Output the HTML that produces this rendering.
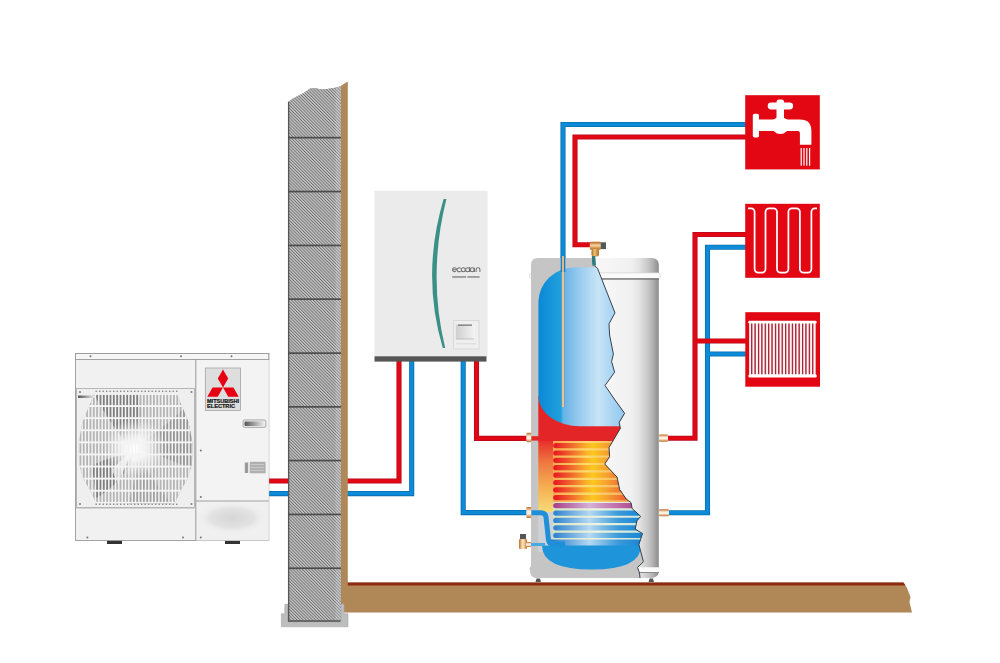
<!DOCTYPE html>
<html><head><meta charset="utf-8"><title>Ecodan system</title>
<style>
html,body{margin:0;padding:0;background:#fff;}
body{width:1000px;height:663px;overflow:hidden;font-family:"Liberation Sans",sans-serif;}
svg{display:block;}
</style></head><body>
<svg width="1000" height="663" viewBox="0 0 1000 663">
<defs>
<pattern id="hatch" patternUnits="userSpaceOnUse" width="2.2" height="2.2" patternTransform="rotate(-45)">
<rect width="2.2" height="2.2" fill="#cacaca"/><rect width="0.9" height="2.2" fill="#6a6a6a"/>
</pattern>
<linearGradient id="tankExt" x1="531" y1="0" x2="659" y2="0" gradientUnits="userSpaceOnUse">
<stop offset="0" stop-color="#f7f7f7"/><stop offset="0.6" stop-color="#f6f6f6"/><stop offset="0.79" stop-color="#f0f0f0"/>
<stop offset="0.85" stop-color="#e2e2e2"/><stop offset="0.914" stop-color="#c8c8c8"/><stop offset="0.953" stop-color="#b0b0b0"/><stop offset="1" stop-color="#8a8a8a"/>
</linearGradient>
<linearGradient id="blueV" x1="538" y1="0" x2="625" y2="0" gradientUnits="userSpaceOnUse">
<stop offset="0" stop-color="#0a88d6"/><stop offset="0.264" stop-color="#20a0dc"/><stop offset="0.287" stop-color="#62b2e6"/>
<stop offset="0.425" stop-color="#8cc4ec"/><stop offset="0.69" stop-color="#c8e4f6"/><stop offset="0.85" stop-color="#aad4f2"/><stop offset="1" stop-color="#92c8ee"/>
</linearGradient>
<linearGradient id="hotBg" x1="0" y1="441" x2="0" y2="513" gradientUnits="userSpaceOnUse">
<stop offset="0" stop-color="#e8302a"/><stop offset="0.3" stop-color="#ef7840"/>
<stop offset="0.65" stop-color="#f5b052"/><stop offset="1" stop-color="#f8dc7a"/>
</linearGradient>
<linearGradient id="coilHot" x1="553" y1="0" x2="640" y2="0" gradientUnits="userSpaceOnUse">
<stop offset="0" stop-color="#e8141e"/><stop offset="0.1" stop-color="#ec3a28"/><stop offset="0.25" stop-color="#f2782e"/>
<stop offset="0.38" stop-color="#f9b02a"/><stop offset="0.46" stop-color="#fcc81c"/><stop offset="0.62" stop-color="#f6a030"/><stop offset="0.8" stop-color="#ef6a30"/><stop offset="1" stop-color="#e8402a"/>
</linearGradient>
<linearGradient id="coilGap" x1="553" y1="0" x2="640" y2="0" gradientUnits="userSpaceOnUse">
<stop offset="0" stop-color="#f5a850"/><stop offset="0.4" stop-color="#fcdc70"/><stop offset="0.75" stop-color="#f8b860"/><stop offset="1" stop-color="#f29a58"/>
</linearGradient>
<linearGradient id="coilPurple" x1="553" y1="0" x2="640" y2="0" gradientUnits="userSpaceOnUse">
<stop offset="0" stop-color="#a83c88"/><stop offset="0.42" stop-color="#d4b0d6"/><stop offset="0.75" stop-color="#c06aa8"/><stop offset="1" stop-color="#a83c88"/>
</linearGradient>
<linearGradient id="coilBlue" x1="553" y1="0" x2="640" y2="0" gradientUnits="userSpaceOnUse">
<stop offset="0" stop-color="#2a80cf"/><stop offset="0.42" stop-color="#b5d8f2"/><stop offset="0.75" stop-color="#3a9ada"/><stop offset="1" stop-color="#1a88d4"/>
</linearGradient>
<linearGradient id="coldGap" x1="553" y1="0" x2="640" y2="0" gradientUnits="userSpaceOnUse">
<stop offset="0" stop-color="#d6e4c0"/><stop offset="0.5" stop-color="#eef4e0"/><stop offset="1" stop-color="#d0e6d8"/>
</linearGradient>
<linearGradient id="handleG" x1="0" y1="0" x2="1" y2="0">
<stop offset="0" stop-color="#555"/><stop offset="1" stop-color="#eee"/>
</linearGradient>
<linearGradient id="screenG" x1="0" y1="0" x2="1" y2="0">
<stop offset="0" stop-color="#cfcfcf"/><stop offset="1" stop-color="#f4f4f4"/>
</linearGradient>
<linearGradient id="brass" x1="0" y1="0" x2="0" y2="1">
<stop offset="0" stop-color="#c06a26"/><stop offset="0.38" stop-color="#faf0dc"/><stop offset="0.62" stop-color="#faf0dc"/><stop offset="1" stop-color="#c06a26"/>
</linearGradient>
<linearGradient id="brassH" x1="0" y1="0" x2="1" y2="0">
<stop offset="0" stop-color="#c06a26"/><stop offset="0.4" stop-color="#f5dcb0"/><stop offset="0.6" stop-color="#f5dcb0"/><stop offset="1" stop-color="#c06a26"/>
</linearGradient>
<linearGradient id="brassT" x1="0" y1="0" x2="0" y2="1">
<stop offset="0" stop-color="#b8641e"/><stop offset="0.45" stop-color="#f2d6a6"/><stop offset="0.6" stop-color="#e8b878"/><stop offset="1" stop-color="#b8641e"/>
</linearGradient>
<linearGradient id="brassT2" x1="0" y1="0" x2="1" y2="0">
<stop offset="0" stop-color="#a86a20"/><stop offset="0.4" stop-color="#e8c070"/><stop offset="1" stop-color="#b0702a"/>
</linearGradient>
<radialGradient id="fanHub" cx="135" cy="448" r="30" gradientUnits="userSpaceOnUse">
<stop offset="0" stop-color="#fff" stop-opacity="1"/><stop offset="0.4" stop-color="#fff" stop-opacity="0.85"/><stop offset="1" stop-color="#fff" stop-opacity="0"/>
</radialGradient>
<radialGradient id="smudge" cx="232" cy="518" r="36" gradientUnits="userSpaceOnUse" gradientTransform="translate(232 518) scale(1 0.45) translate(-232 -518)">
<stop offset="0" stop-color="#d6d6d6"/><stop offset="0.6" stop-color="#e2e2e2"/><stop offset="1" stop-color="#f0f0f0" stop-opacity="0"/>
</radialGradient>
<clipPath id="fanClip"><circle cx="135.5" cy="448" r="68"/></clipPath>
<clipPath id="cutClip"><path id="cutPathC" d="M531 265 Q531 258 538 258 L592.5 258 L593.3 264.7 L597.5 268.3 L615 312.9 L609 323.8 L609.6 335 L613.4 354.1 L611.6 361.4 L614.6 372.2 L605 385.5 L615 400 L624.6 413.3 L619.2 422.3 L620.4 428.3 L609 447.6 L609.6 456.7 L604.7 464 L617 477 L619.6 489.3 L626.2 499 L631 502.6 L632.2 508.6 L640.7 516.4 L637 520.7 L635.2 529.1 L642.5 533.5 L638.9 544.5 L643.4 561.7 L637.5 567.5 L639.5 573 L640 578 L537 578 Q531 578 530 572 L529.5 568 L531 566 Z"/></clipPath>
</defs>
<rect width="1000" height="663" fill="#fff"/>

<path d="M268 493.6 H411.7 V358 M463.2 358 V512.6 H531 M563 272 V124.5 H747 M668 512.7 H707.5 V247.2 H747 M707.5 354 H747" fill="none" stroke="#0a6fb2" stroke-width="5.1" stroke-linejoin="miter" stroke-linecap="butt"/>
<path d="M268 493.6 H411.7 V358 M463.2 358 V512.6 H531 M563 272 V124.5 H747 M668 512.7 H707.5 V247.2 H747 M707.5 354 H747" fill="none" stroke="#0b8bd8" stroke-width="3.5" stroke-linejoin="miter" stroke-linecap="butt"/>
<path d="M268 481 H399 V358 M476.5 358 V438.4 H531 M591 244.8 H575 V137 H747 M667 438.3 H695 V234.5 H747 M695 341 H747" fill="none" stroke="#b80a1c" stroke-width="5.1" stroke-linejoin="miter" stroke-linecap="butt"/>
<path d="M268 481 H399 V358 M476.5 358 V438.4 H531 M591 244.8 H575 V137 H747 M667 438.3 H695 V234.5 H747 M695 341 H747" fill="none" stroke="#e30613" stroke-width="3.5" stroke-linejoin="miter" stroke-linecap="butt"/>
<path d="M347 582.5 H903.5 L907 588 L910.5 597 L909.5 602 L912 612.5 H347 Z" fill="#b08858"/>
<path d="M347 582.5 H903.5 L905.5 585.5 H347 Z" fill="#8e2c12"/>
<path d="M340.6 86 L347.8 81.5 V612.5 H340.6 Z" fill="#b08858"/>
<path d="M284.8 604.3 H288 V621.7 H341 V604.3 H344 V613.8 H348 V626.8 H281.4 V613.8 H284.8 Z" fill="#bdbdbd" stroke="#a8a8a8" stroke-width="0.6"/>
<path d="M288 102 L292.6 98.7 L298.7 95.6 L304.7 92.4 L310 88.6 L315.5 88.2 L321.3 89.6 L327.3 88.9 L334.9 87.8 L340.8 86.3 V621.7 H288 Z" fill="#9a9a9a"/>
<path d="M288 102 L292.6 98.7 L298.7 95.6 L304.7 92.4 L310 88.6 L315.5 88.2 L321.3 89.6 L327.3 88.9 L334.9 87.8 L340.8 86.3 V621.7 H288 Z" fill="url(#hatch)"/>
<rect x="335.5" y="87" width="5.3" height="534" fill="#d4dde6" opacity="0.25"/>
<path d="M288.6 102 V621 H340.6" fill="none" stroke="#555" stroke-width="1.3"/>
<rect x="288" y="136.79999999999998" width="53" height="1.7" fill="#4c4c4c"/>
<rect x="288" y="190.7" width="53" height="1.7" fill="#4c4c4c"/>
<rect x="288" y="244.6" width="53" height="1.7" fill="#4c4c4c"/>
<rect x="288" y="298.3" width="53" height="1.7" fill="#4c4c4c"/>
<rect x="288" y="352.3" width="53" height="1.7" fill="#4c4c4c"/>
<rect x="288" y="406.0" width="53" height="1.7" fill="#4c4c4c"/>
<rect x="288" y="459.7" width="53" height="1.7" fill="#4c4c4c"/>
<rect x="288" y="513.6" width="53" height="1.7" fill="#4c4c4c"/>
<rect x="288" y="567.4000000000001" width="53" height="1.7" fill="#4c4c4c"/>
<g id="outdoor">
<rect x="107" y="540" width="15" height="4" fill="#333"/><rect x="225" y="540" width="15" height="4" fill="#333"/>
<rect x="75.5" y="353.5" width="193.3" height="187" fill="#f1f1f1" stroke="#9a9a9a" stroke-width="0.9"/>
<rect x="196" y="359.5" width="72.8" height="141.5" fill="#f3f3f3"/>
<rect x="196" y="501" width="72.8" height="39.5" fill="#f0f0f0"/>
<rect x="196" y="501" width="72.8" height="39.5" fill="url(#smudge)"/>
<rect x="75.5" y="353.5" width="193.3" height="6" fill="#f6f6f6" stroke="#9a9a9a" stroke-width="0.9"/>
<line x1="195.8" y1="359.5" x2="195.8" y2="540.5" stroke="#999" stroke-width="1"/>
<line x1="196" y1="501" x2="268.8" y2="501" stroke="#a0a0a0" stroke-width="1.2"/>
<rect x="76.5" y="388.5" width="118" height="119" fill="#efefef" stroke="#a8a8a8" stroke-width="0.8"/>
<line x1="76.5" y1="507.8" x2="194.5" y2="507.8" stroke="#b5b5b5" stroke-width="1.4"/>
<clipPath id="gClip"><path d="M94 394 L86.9 411.5 L82.3 422.4 L78.7 442.3 L79 464 L83.2 478.5 L89.6 489.4 L94 498.4 L96 503.5 L175 503.5 L177 498.4 L181.4 489.4 L187.8 478.5 L192 464 L192.3 442.3 L188.7 422.4 L184.1 411.5 L177 394 Z"/></clipPath>
<g clip-path="url(#gClip)">
<rect x="77" y="391" width="117" height="114" fill="#b4b4b4"/>
<path d="M128 446 C118 432 104 414 94 394 L138 393 C142 410 140 430 136 444 Z" fill="#7e7e7e"/>
<path d="M140 444 C152 436 168 424 184 408 L194 440 L194 470 C176 462 156 454 140 450 Z" fill="#959595"/>
<path d="M132 453 C120 456 104 458 92 466 L96 498 C112 490 126 474 133 457 Z" fill="#7e7e7e"/>
<path d="M138 454 C146 470 158 488 172 504 L128 505 C134 488 137 470 138 454 Z" fill="#a0a0a0"/>
<path d="M112 470 C120 460 128 455 135 448 C128 458 124 470 118 484 Z" fill="#d0d0d0"/>
<circle cx="135.5" cy="448" r="30" fill="url(#fanHub)"/>
<rect x="78.00" y="391" width="1.5" height="114" fill="#f4f4f4"/>
<rect x="81.34" y="391" width="1.5" height="114" fill="#f4f4f4"/>
<rect x="84.68" y="391" width="1.5" height="114" fill="#f4f4f4"/>
<rect x="88.02" y="391" width="1.5" height="114" fill="#f4f4f4"/>
<rect x="91.36" y="391" width="1.5" height="114" fill="#f4f4f4"/>
<rect x="94.70" y="391" width="1.5" height="114" fill="#f4f4f4"/>
<rect x="98.04" y="391" width="1.5" height="114" fill="#f4f4f4"/>
<rect x="101.38" y="391" width="1.5" height="114" fill="#f4f4f4"/>
<rect x="104.72" y="391" width="1.5" height="114" fill="#f4f4f4"/>
<rect x="108.06" y="391" width="1.5" height="114" fill="#f4f4f4"/>
<rect x="111.40" y="391" width="1.5" height="114" fill="#f4f4f4"/>
<rect x="114.74" y="391" width="1.5" height="114" fill="#f4f4f4"/>
<rect x="118.08" y="391" width="1.5" height="114" fill="#f4f4f4"/>
<rect x="121.42" y="391" width="1.5" height="114" fill="#f4f4f4"/>
<rect x="124.76" y="391" width="1.5" height="114" fill="#f4f4f4"/>
<rect x="128.10" y="391" width="1.5" height="114" fill="#f4f4f4"/>
<rect x="131.44" y="391" width="1.5" height="114" fill="#f4f4f4"/>
<rect x="134.78" y="391" width="1.5" height="114" fill="#f4f4f4"/>
<rect x="138.12" y="391" width="1.5" height="114" fill="#f4f4f4"/>
<rect x="141.46" y="391" width="1.5" height="114" fill="#f4f4f4"/>
<rect x="144.80" y="391" width="1.5" height="114" fill="#f4f4f4"/>
<rect x="148.14" y="391" width="1.5" height="114" fill="#f4f4f4"/>
<rect x="151.48" y="391" width="1.5" height="114" fill="#f4f4f4"/>
<rect x="154.82" y="391" width="1.5" height="114" fill="#f4f4f4"/>
<rect x="158.16" y="391" width="1.5" height="114" fill="#f4f4f4"/>
<rect x="161.50" y="391" width="1.5" height="114" fill="#f4f4f4"/>
<rect x="164.84" y="391" width="1.5" height="114" fill="#f4f4f4"/>
<rect x="168.18" y="391" width="1.5" height="114" fill="#f4f4f4"/>
<rect x="171.52" y="391" width="1.5" height="114" fill="#f4f4f4"/>
<rect x="174.86" y="391" width="1.5" height="114" fill="#f4f4f4"/>
<rect x="178.20" y="391" width="1.5" height="114" fill="#f4f4f4"/>
<rect x="181.54" y="391" width="1.5" height="114" fill="#f4f4f4"/>
<rect x="184.88" y="391" width="1.5" height="114" fill="#f4f4f4"/>
<rect x="188.22" y="391" width="1.5" height="114" fill="#f4f4f4"/>
<rect x="191.56" y="391" width="1.5" height="114" fill="#f4f4f4"/>
<rect x="77" y="393.0" width="117" height="1.9" fill="#f4f4f4"/>
<rect x="77" y="405.1" width="117" height="1.9" fill="#f4f4f4"/>
<rect x="77" y="417.2" width="117" height="1.9" fill="#f4f4f4"/>
<rect x="77" y="429.3" width="117" height="1.9" fill="#f4f4f4"/>
<rect x="77" y="441.4" width="117" height="1.9" fill="#f4f4f4"/>
<rect x="77" y="453.5" width="117" height="1.9" fill="#f4f4f4"/>
<rect x="77" y="465.6" width="117" height="1.9" fill="#f4f4f4"/>
<rect x="77" y="477.7" width="117" height="1.9" fill="#f4f4f4"/>
<rect x="77" y="489.8" width="117" height="1.9" fill="#f4f4f4"/>
<rect x="77" y="501.9" width="117" height="1.9" fill="#f4f4f4"/>
</g>
<rect x="95.5" y="390.6" width="1.4" height="1.4" fill="#888"/>
<rect x="95.5" y="503.6" width="1.4" height="1.4" fill="#888"/>
<rect x="99.0" y="390.6" width="1.4" height="1.4" fill="#888"/>
<rect x="99.0" y="503.6" width="1.4" height="1.4" fill="#888"/>
<rect x="102.5" y="390.6" width="1.4" height="1.4" fill="#888"/>
<rect x="102.5" y="503.6" width="1.4" height="1.4" fill="#888"/>
<rect x="106.0" y="390.6" width="1.4" height="1.4" fill="#888"/>
<rect x="106.0" y="503.6" width="1.4" height="1.4" fill="#888"/>
<rect x="109.5" y="390.6" width="1.4" height="1.4" fill="#888"/>
<rect x="109.5" y="503.6" width="1.4" height="1.4" fill="#888"/>
<rect x="113.0" y="390.6" width="1.4" height="1.4" fill="#888"/>
<rect x="113.0" y="503.6" width="1.4" height="1.4" fill="#888"/>
<rect x="116.5" y="390.6" width="1.4" height="1.4" fill="#888"/>
<rect x="116.5" y="503.6" width="1.4" height="1.4" fill="#888"/>
<rect x="120.0" y="390.6" width="1.4" height="1.4" fill="#888"/>
<rect x="120.0" y="503.6" width="1.4" height="1.4" fill="#888"/>
<rect x="123.5" y="390.6" width="1.4" height="1.4" fill="#888"/>
<rect x="123.5" y="503.6" width="1.4" height="1.4" fill="#888"/>
<rect x="127.0" y="390.6" width="1.4" height="1.4" fill="#888"/>
<rect x="127.0" y="503.6" width="1.4" height="1.4" fill="#888"/>
<rect x="130.5" y="390.6" width="1.4" height="1.4" fill="#888"/>
<rect x="130.5" y="503.6" width="1.4" height="1.4" fill="#888"/>
<rect x="134.0" y="390.6" width="1.4" height="1.4" fill="#888"/>
<rect x="134.0" y="503.6" width="1.4" height="1.4" fill="#888"/>
<rect x="137.5" y="390.6" width="1.4" height="1.4" fill="#888"/>
<rect x="137.5" y="503.6" width="1.4" height="1.4" fill="#888"/>
<rect x="141.0" y="390.6" width="1.4" height="1.4" fill="#888"/>
<rect x="141.0" y="503.6" width="1.4" height="1.4" fill="#888"/>
<rect x="144.5" y="390.6" width="1.4" height="1.4" fill="#888"/>
<rect x="144.5" y="503.6" width="1.4" height="1.4" fill="#888"/>
<rect x="148.0" y="390.6" width="1.4" height="1.4" fill="#888"/>
<rect x="148.0" y="503.6" width="1.4" height="1.4" fill="#888"/>
<rect x="151.5" y="390.6" width="1.4" height="1.4" fill="#888"/>
<rect x="151.5" y="503.6" width="1.4" height="1.4" fill="#888"/>
<rect x="155.0" y="390.6" width="1.4" height="1.4" fill="#888"/>
<rect x="155.0" y="503.6" width="1.4" height="1.4" fill="#888"/>
<rect x="158.5" y="390.6" width="1.4" height="1.4" fill="#888"/>
<rect x="158.5" y="503.6" width="1.4" height="1.4" fill="#888"/>
<rect x="162.0" y="390.6" width="1.4" height="1.4" fill="#888"/>
<rect x="162.0" y="503.6" width="1.4" height="1.4" fill="#888"/>
<rect x="165.5" y="390.6" width="1.4" height="1.4" fill="#888"/>
<rect x="165.5" y="503.6" width="1.4" height="1.4" fill="#888"/>
<rect x="169.0" y="390.6" width="1.4" height="1.4" fill="#888"/>
<rect x="169.0" y="503.6" width="1.4" height="1.4" fill="#888"/>
<rect x="172.5" y="390.6" width="1.4" height="1.4" fill="#888"/>
<rect x="172.5" y="503.6" width="1.4" height="1.4" fill="#888"/>
<rect x="176.0" y="390.6" width="1.4" height="1.4" fill="#888"/>
<rect x="176.0" y="503.6" width="1.4" height="1.4" fill="#888"/>
<rect x="78" y="395.5" width="17" height="2.5" fill="url(#handleG)"/>
<circle cx="80" cy="392" r="1" fill="#777"/>
<circle cx="191.5" cy="392" r="1" fill="#777"/>
<circle cx="80" cy="504" r="1" fill="#777"/>
<circle cx="191.5" cy="504" r="1" fill="#777"/>
<circle cx="90.5" cy="356.3" r="1" fill="#777"/>
<circle cx="181" cy="356.3" r="1" fill="#777"/>
<circle cx="231.5" cy="356.3" r="1" fill="#777"/>
<circle cx="200.8" cy="450.5" r="1" fill="#777"/>
<circle cx="200.8" cy="497" r="1" fill="#777"/>
<circle cx="200.8" cy="537.5" r="1" fill="#777"/>
<circle cx="87.4" cy="537.5" r="1" fill="#777"/>
<circle cx="183" cy="537.5" r="1" fill="#777"/>
<rect x="205.3" y="368" width="35.3" height="42.5" fill="#dedede" stroke="#9a9a9a" stroke-width="0.7"/>
<path d="M223 387.6 L217.8 378.55 L223 369.5 L228.2 378.55 Z" fill="#e60012"/>
<path d="M223 387.6 L212.55 387.6 L207.33 396.65000000000003 L217.78 396.65000000000003 Z" fill="#e60012"/>
<path d="M223 387.6 L233.45 387.6 L238.67 396.65000000000003 L228.22 396.65000000000003 Z" fill="#e60012"/>
<text x="207" y="402.8" font-family="Liberation Sans" font-weight="bold" font-size="5.6" fill="#111" stroke="#111" stroke-width="0.2" textLength="32" lengthAdjust="spacingAndGlyphs">MITSUBISHI</text>
<text x="207" y="408" font-family="Liberation Sans" font-weight="bold" font-size="5.6" fill="#111" stroke="#111" stroke-width="0.2" textLength="28" lengthAdjust="spacingAndGlyphs">ELECTRIC</text>
<rect x="243" y="419.9" width="22.9" height="7.5" rx="1.5" fill="#e8e8e8" stroke="#9a9a9a" stroke-width="0.8"/>
<rect x="244.5" y="421.4" width="20" height="4.5" rx="1" fill="url(#handleG)"/>
<rect x="249.8" y="461.8" width="15.8" height="11.5" fill="#b0b0b0"/>
<rect x="244.8" y="462.5" width="3.4" height="10.5" fill="#9a9a9a"/>
<rect x="251" y="464" width="13" height="0.8" fill="#d0d0d0"/>
<rect x="251" y="467" width="13" height="0.8" fill="#d0d0d0"/>
<rect x="251" y="470" width="13" height="0.8" fill="#d0d0d0"/>
</g>
<g id="indoor">
<rect x="374.5" y="190.8" width="113.1" height="165.7" fill="#ebebeb"/>
<rect x="374.5" y="356.3" width="112" height="5.3" fill="#555"/>
<path d="M443.6 199 Q421 275 442.8 348 L445.2 348 Q427.4 275 446.4 199 Z" fill="#3a9085"/>
<g fill="none" stroke="#727272" stroke-width="1.05"><path d="M452.5 269.8 H456.5 A2 2 0 1 0 455.9 271.2"/><path d="M460.6 268.5 A2 2 0 1 0 460.6 271.1"/><circle cx="463.3" cy="269.8" r="2"/><circle cx="467.6" cy="269.8" r="2"/><path d="M469.6 266.9 V272.1"/><circle cx="472.3" cy="269.8" r="2"/><path d="M474.3 267.8 V272.1"/><path d="M476.1 272.1 V269.6 A1.9 1.9 0 0 1 479.9 269.6 V272.1"/></g>
<rect x="452.2" y="276.2" width="14" height="1.5" fill="#6a6a6a" opacity="0.75"/><rect x="467.4" y="276.2" width="12.2" height="1.5" fill="#6a6a6a" opacity="0.75"/>
<rect x="453.7" y="320.4" width="25.3" height="28.6" fill="#efefef" stroke="#d4d4d4" stroke-width="0.8"/>
<rect x="455.8" y="324.5" width="19" height="15" fill="url(#screenG)"/>
<rect x="458" y="324.6" width="14" height="1" fill="#555"/>
<rect x="456" y="338.5" width="18" height="0.8" fill="#bbb"/>
<rect x="456" y="343.5" width="20" height="0.8" fill="#d0d0d0"/>
</g>
<g id="tank">
<path d="M531 265 Q531 258 538 258 H651.5 Q658.8 258 658.8 265 V566 H531 Z" fill="url(#tankExt)"/>
<rect x="529.5" y="272.8" width="131" height="6" rx="2.8" fill="#fbfbfb" stroke="#c4c4c4" stroke-width="0.5"/>
<rect x="531" y="278.3" width="127.8" height="1.3" fill="#6a6a6a"/>
<path d="M531 566 H658.8 V572 Q658 578 650 578 H540 Q532 578 531 572 Z" fill="url(#tankExt)"/>
<rect x="636" y="567.2" width="24.5" height="5" rx="2.5" fill="#fafafa"/>
<rect x="637" y="572" width="22" height="1" fill="#8a8a8a"/>
<path d="M535.5 582 L536.5 578.5 H540 L541 582 Z" fill="#555"/><path d="M648.5 582 L649.5 578.5 H653 L654 582 Z" fill="#555"/>
<path d="M531 265 Q531 258 538 258 L592.5 258 L593.3 264.7 L597.5 268.3 L615 312.9 L609 323.8 L609.6 335 L613.4 354.1 L611.6 361.4 L614.6 372.2 L605 385.5 L615 400 L624.6 413.3 L619.2 422.3 L620.4 428.3 L609 447.6 L609.6 456.7 L604.7 464 L617 477 L619.6 489.3 L626.2 499 L631 502.6 L632.2 508.6 L640.7 516.4 L637 520.7 L635.2 529.1 L642.5 533.5 L638.9 544.5 L643.4 561.7 L637.5 567.5 L639.5 573 L640 578 L537 578 Q531 578 530 572 L529.5 568 L531 566 Z" fill="#c5c5c5"/>
<g clip-path="url(#cutClip)">
<rect x="538.3" y="396" width="110" height="46" fill="#e42528"/>
<rect x="538.3" y="441" width="110" height="72" fill="url(#hotBg)"/>
<rect x="538.3" y="512" width="20" height="40" fill="#ccd2d6"/>
<path d="M538.4 302 A37 35 0 0 1 575 267.3 H650 V426.3 H580 A41.6 30 0 0 1 538.4 396.3 Z" fill="url(#blueV)"/>
<rect x="553" y="441" width="100" height="61" fill="url(#coilGap)"/>
<rect x="553" y="502" width="100" height="46" fill="url(#coldGap)"/>
<rect x="553.2" y="443.0" width="100" height="5.2" rx="2.6" fill="url(#coilHot)"/>
<rect x="553.2" y="450.4" width="100" height="5.2" rx="2.6" fill="url(#coilHot)"/>
<rect x="553.2" y="457.7" width="100" height="5.2" rx="2.6" fill="url(#coilHot)"/>
<rect x="553.2" y="465.1" width="100" height="5.2" rx="2.6" fill="url(#coilHot)"/>
<rect x="553.2" y="472.5" width="100" height="5.2" rx="2.6" fill="url(#coilHot)"/>
<rect x="553.2" y="479.9" width="100" height="5.2" rx="2.6" fill="url(#coilHot)"/>
<rect x="553.2" y="487.3" width="100" height="5.2" rx="2.6" fill="url(#coilHot)"/>
<rect x="553.2" y="495.0" width="100" height="5.2" rx="2.6" fill="url(#coilHot)"/>
<rect x="553.2" y="503" width="100" height="5.2" rx="2.6" fill="url(#coilPurple)"/>
<rect x="553.2" y="510.5" width="100" height="5.2" rx="2.6" fill="url(#coilBlue)"/>
<rect x="553.2" y="517.8" width="100" height="5.2" rx="2.6" fill="url(#coilBlue)"/>
<rect x="553.2" y="525.2" width="100" height="5.2" rx="2.6" fill="url(#coilBlue)"/>
<rect x="553.2" y="532.8" width="100" height="5.2" rx="2.6" fill="url(#coilBlue)"/>
<rect x="550" y="539.5" width="100" height="7" fill="url(#coilBlue)"/>
<path d="M542 545.5 H641 Q641 569.5 592 569.5 Q542 569.5 542 545.5 Z" fill="#1e95db"/>
<path d="M531 512.7 H541 Q545.5 512.7 546 517 L548.5 540 Q549 544 553 544 H565" fill="none" stroke="#1e8fd8" stroke-width="5" stroke-linejoin="round"/>
<rect x="531" y="543" width="14" height="3" fill="#49a8e2"/>
<rect x="561.6" y="257" width="2.8" height="150" fill="#8a8f98"/>
<rect x="562" y="257" width="2" height="150" fill="#e6c49a"/>
<rect x="531" y="436.2" width="28" height="4.4" fill="#e42528"/>
</g>
<path d="M592.5 258 L593.3 264.7 L597.5 268.3 L615 312.9 L609 323.8 L609.6 335 L613.4 354.1 L611.6 361.4 L614.6 372.2 L605 385.5 L615 400 L624.6 413.3 L619.2 422.3 L620.4 428.3 L609 447.6 L609.6 456.7 L604.7 464 L617 477 L619.6 489.3 L626.2 499 L631 502.6 L632.2 508.6 L640.7 516.4 L637 520.7 L635.2 529.1 L642.5 533.5 L638.9 544.5 L643.4 561.7 L637.5 567.5 L639.5 573 L640 578" fill="none" stroke="#26333f" stroke-width="0.9" stroke-linejoin="round"/>
<rect x="560.7" y="256" width="4.6" height="16" fill="#1a7fc4"/>
<rect x="562" y="256" width="2" height="16" fill="#d9b98f"/>
<rect x="526.3" y="432.8" width="5" height="9.5" rx="1" fill="url(#brass)"/>
<rect x="526.3" y="507" width="5" height="11" rx="1" fill="url(#brass)"/>
<rect x="659" y="434.5" width="9" height="7.2" rx="1" fill="url(#brass)"/>
<rect x="659" y="509.3" width="10" height="7" rx="1" fill="url(#brass)"/>
<rect x="520" y="534" width="6" height="5" fill="#555"/>
<rect x="519" y="539" width="8" height="10" rx="1" fill="url(#brassH)"/>
<rect x="526" y="542" width="5" height="5" fill="url(#brass)"/>
<rect x="600" y="242.3" width="6" height="6.8" fill="#505a5a"/>
<rect x="589.8" y="241.8" width="11" height="8" rx="1.2" fill="url(#brassT)"/>
<rect x="591.5" y="249" width="7.5" height="7.5" rx="2" fill="url(#brassT2)"/>
<path d="M591.8 256 H595.2 L596 265.5 H592.4 Z" fill="#2f7d80"/>
</g>
<g id="icons">
<rect x="745.2" y="95.2" width="74.6" height="74.2" fill="#e30613"/>
<g fill="#fff">
<rect x="767.7" y="102.6" width="25.4" height="6.8" rx="3.4"/>
<rect x="776.5" y="99.6" width="7.6" height="5" rx="2.5"/>
<rect x="776.5" y="106" width="7.5" height="13"/>
<rect x="752.8" y="113.8" width="6.2" height="23.8" rx="1.8"/>
<path d="M758 119.6 H800 Q811.4 119.6 811.4 131 V144.7 H799.9 V133 Q799.9 131.1 798 131.1 H758 Z"/>
<circle cx="780.3" cy="125.4" r="8.6"/>
</g>
<rect x="800.6" y="148" width="1.2" height="17.7" fill="#fff"/>
<rect x="803.4" y="148" width="1.2" height="17.7" fill="#fff"/>
<rect x="806.2" y="148" width="1.2" height="17.7" fill="#fff"/>
<rect x="809.0" y="148" width="1.2" height="17.7" fill="#fff"/>
<rect x="745.2" y="203.8" width="74.6" height="74" fill="#e30613"/>
<path d="M748 208.4 H751.0 A3.6 3.6 0 0 1 754.6 212.0 V269.00 A3.6 3.6 0 0 0 758.20 272.6 H761.90 A3.6 3.6 0 0 0 765.5 269.00 V212.00 A3.6 3.6 0 0 1 769.10 208.4 H773.40 A3.6 3.6 0 0 1 777.0 212.00 V269.00 A3.6 3.6 0 0 0 780.60 272.6 H784.80 A3.6 3.6 0 0 0 788.4 269.00 V212.00 A3.6 3.6 0 0 1 792.00 208.4 H796.30 A3.6 3.6 0 0 1 799.9 212.00 V269.00 A3.6 3.6 0 0 0 803.50 272.6 H807.80 A3.6 3.6 0 0 0 811.4 269.00 V212.0 A3.6 3.6 0 0 1 815.0 208.4 H817" fill="none" stroke="#fff" stroke-width="1.75"/>
<rect x="745.3" y="312.2" width="74.7" height="74.5" fill="#e30613"/>
<rect x="749" y="322" width="66.5" height="54" fill="#d25a68"/>
<rect x="749.20" y="321.5" width="2.0" height="55" fill="#fff4f4"/>
<rect x="751.20" y="323" width="0.75" height="52" fill="#8c1428"/>
<rect x="752.59" y="321.5" width="2.0" height="55" fill="#fff4f4"/>
<rect x="754.59" y="323" width="0.75" height="52" fill="#8c1428"/>
<rect x="755.98" y="321.5" width="2.0" height="55" fill="#fff4f4"/>
<rect x="757.98" y="323" width="0.75" height="52" fill="#8c1428"/>
<rect x="759.37" y="321.5" width="2.0" height="55" fill="#fff4f4"/>
<rect x="761.37" y="323" width="0.75" height="52" fill="#8c1428"/>
<rect x="762.76" y="321.5" width="2.0" height="55" fill="#fff4f4"/>
<rect x="764.76" y="323" width="0.75" height="52" fill="#8c1428"/>
<rect x="766.15" y="321.5" width="2.0" height="55" fill="#fff4f4"/>
<rect x="768.15" y="323" width="0.75" height="52" fill="#8c1428"/>
<rect x="769.54" y="321.5" width="2.0" height="55" fill="#fff4f4"/>
<rect x="771.54" y="323" width="0.75" height="52" fill="#8c1428"/>
<rect x="772.93" y="321.5" width="2.0" height="55" fill="#fff4f4"/>
<rect x="774.93" y="323" width="0.75" height="52" fill="#8c1428"/>
<rect x="776.32" y="321.5" width="2.0" height="55" fill="#fff4f4"/>
<rect x="778.32" y="323" width="0.75" height="52" fill="#8c1428"/>
<rect x="779.71" y="321.5" width="2.0" height="55" fill="#fff4f4"/>
<rect x="781.71" y="323" width="0.75" height="52" fill="#8c1428"/>
<rect x="783.09" y="321.5" width="2.0" height="55" fill="#fff4f4"/>
<rect x="785.09" y="323" width="0.75" height="52" fill="#8c1428"/>
<rect x="786.48" y="321.5" width="2.0" height="55" fill="#fff4f4"/>
<rect x="788.48" y="323" width="0.75" height="52" fill="#8c1428"/>
<rect x="789.87" y="321.5" width="2.0" height="55" fill="#fff4f4"/>
<rect x="791.87" y="323" width="0.75" height="52" fill="#8c1428"/>
<rect x="793.26" y="321.5" width="2.0" height="55" fill="#fff4f4"/>
<rect x="795.26" y="323" width="0.75" height="52" fill="#8c1428"/>
<rect x="796.65" y="321.5" width="2.0" height="55" fill="#fff4f4"/>
<rect x="798.65" y="323" width="0.75" height="52" fill="#8c1428"/>
<rect x="800.04" y="321.5" width="2.0" height="55" fill="#fff4f4"/>
<rect x="802.04" y="323" width="0.75" height="52" fill="#8c1428"/>
<rect x="803.43" y="321.5" width="2.0" height="55" fill="#fff4f4"/>
<rect x="805.43" y="323" width="0.75" height="52" fill="#8c1428"/>
<rect x="806.82" y="321.5" width="2.0" height="55" fill="#fff4f4"/>
<rect x="808.82" y="323" width="0.75" height="52" fill="#8c1428"/>
<rect x="810.21" y="321.5" width="2.0" height="55" fill="#fff4f4"/>
<rect x="812.21" y="323" width="0.75" height="52" fill="#8c1428"/>
<rect x="813.60" y="321.5" width="2.0" height="55" fill="#fff4f4"/>
<rect x="748.3" y="320.8" width="68.4" height="2.8" rx="1.4" fill="#fff"/>
<rect x="748.3" y="374.3" width="68.6" height="3.3" rx="1.6" fill="#fff"/>
</g>
</svg></body></html>
